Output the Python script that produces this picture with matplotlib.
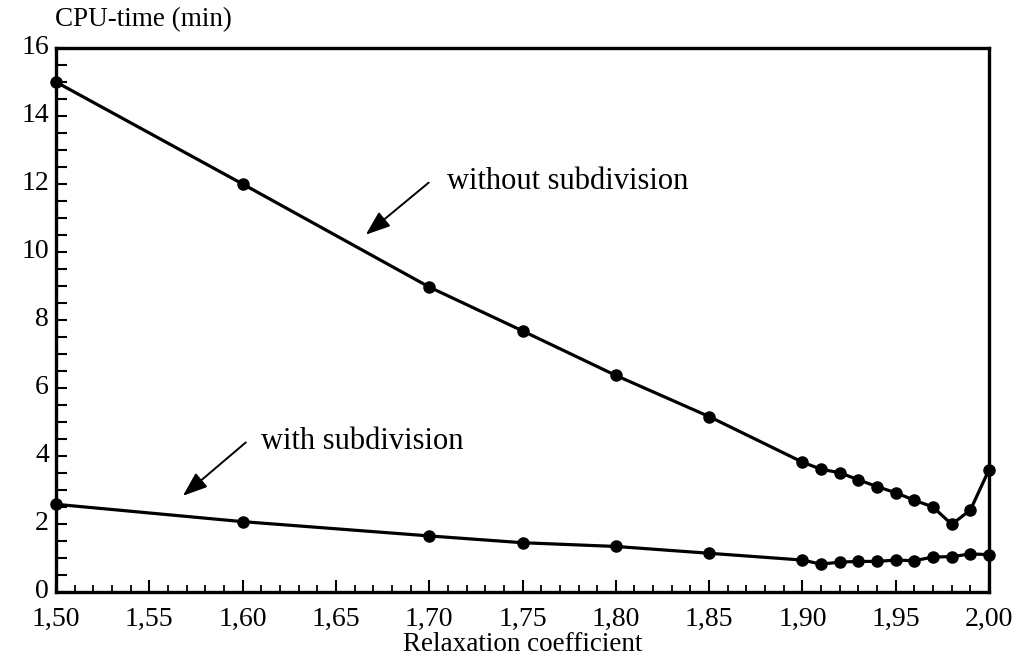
import matplotlib
matplotlib.use('Agg')
import matplotlib.pyplot as plt
import matplotlib.transforms as mtransforms
from matplotlib.ticker import MultipleLocator, FuncFormatter

# relaxation coefficient values
omega = [1.50, 1.60, 1.70, 1.75, 1.80, 1.85, 1.90, 1.91, 1.92, 1.93,
         1.94, 1.95, 1.96, 1.97, 1.98, 1.99, 2.00]
# CPU-time (min)
without_sub = [15.0, 12.0, 8.97, 7.68, 6.37, 5.16, 3.82, 3.61, 3.51, 3.30,
               3.10, 2.92, 2.70, 2.50, 1.99, 2.41, 3.60]
with_sub = [2.58, 2.07, 1.65, 1.45, 1.34, 1.14, 0.94, 0.82, 0.88, 0.90,
            0.90, 0.94, 0.92, 1.03, 1.04, 1.12, 1.10]

plt.rcParams['font.family'] = ['Liberation Serif', 'DejaVu Serif']

fig = plt.figure(figsize=(10.17, 6.64), dpi=100)
ax = fig.add_axes([0.0551, 0.1084, 0.9174, 0.8193])

for ys in (without_sub, with_sub):
    ax.plot(omega, ys, color='black', lw=2.3, marker='o', markersize=8,
            clip_on=False, zorder=3)

ax.set_xlim(1.50, 2.00)
ax.set_ylim(0, 16)

ax.xaxis.set_major_locator(MultipleLocator(0.05))
ax.xaxis.set_minor_locator(MultipleLocator(0.01))
ax.yaxis.set_major_locator(MultipleLocator(2))
ax.yaxis.set_minor_locator(MultipleLocator(0.5))
ax.xaxis.set_major_formatter(FuncFormatter(lambda v, p: f'{v:.2f}'.replace('.', ',')))
ax.yaxis.set_major_formatter(FuncFormatter(lambda v, p: f'{v:.0f}'))

ax.tick_params(axis='x', which='major', direction='in', length=9, width=1.5,
               labelsize=20, pad=11)
ax.tick_params(axis='x', which='minor', direction='in', length=5, width=1.3)
ax.tick_params(axis='y', which='both', direction='in', length=8, width=1.5,
               labelsize=20, pad=5)
ax.tick_params(top=False, right=False, which='both')

# y labels sit a little above their ticks in the original
shift = mtransforms.ScaledTranslation(0, 4 / 100, fig.dpi_scale_trans)
for lbl in ax.get_yticklabels():
    lbl.set_transform(lbl.get_transform() + shift)

for s in ax.spines.values():
    s.set_linewidth(2.4)

ax.set_xlabel('Relaxation coefficient', fontsize=19.5, labelpad=0)
fig.text(55 / 1017, 1 - 20 / 664, 'CPU-time (min)', fontsize=19.5,
         ha='left', va='center')

# labels and arrows
arrow = dict(arrowstyle='-|>,head_length=0.75,head_width=0.28',
             color='black', lw=1.4, mutation_scale=20, shrinkA=0, shrinkB=0)
ax.text(1.7093, 12.07, 'without subdivision', fontsize=22, ha='left', va='center')
ax.annotate('', xy=(1.666, 10.51), xytext=(1.6997, 12.04), arrowprops=arrow)
ax.text(1.6097, 4.43, 'with subdivision', fontsize=22, ha='left', va='center')
ax.annotate('', xy=(1.568, 2.83), xytext=(1.6017, 4.40), arrowprops=arrow)

fig.savefig('out.png', dpi=100)
